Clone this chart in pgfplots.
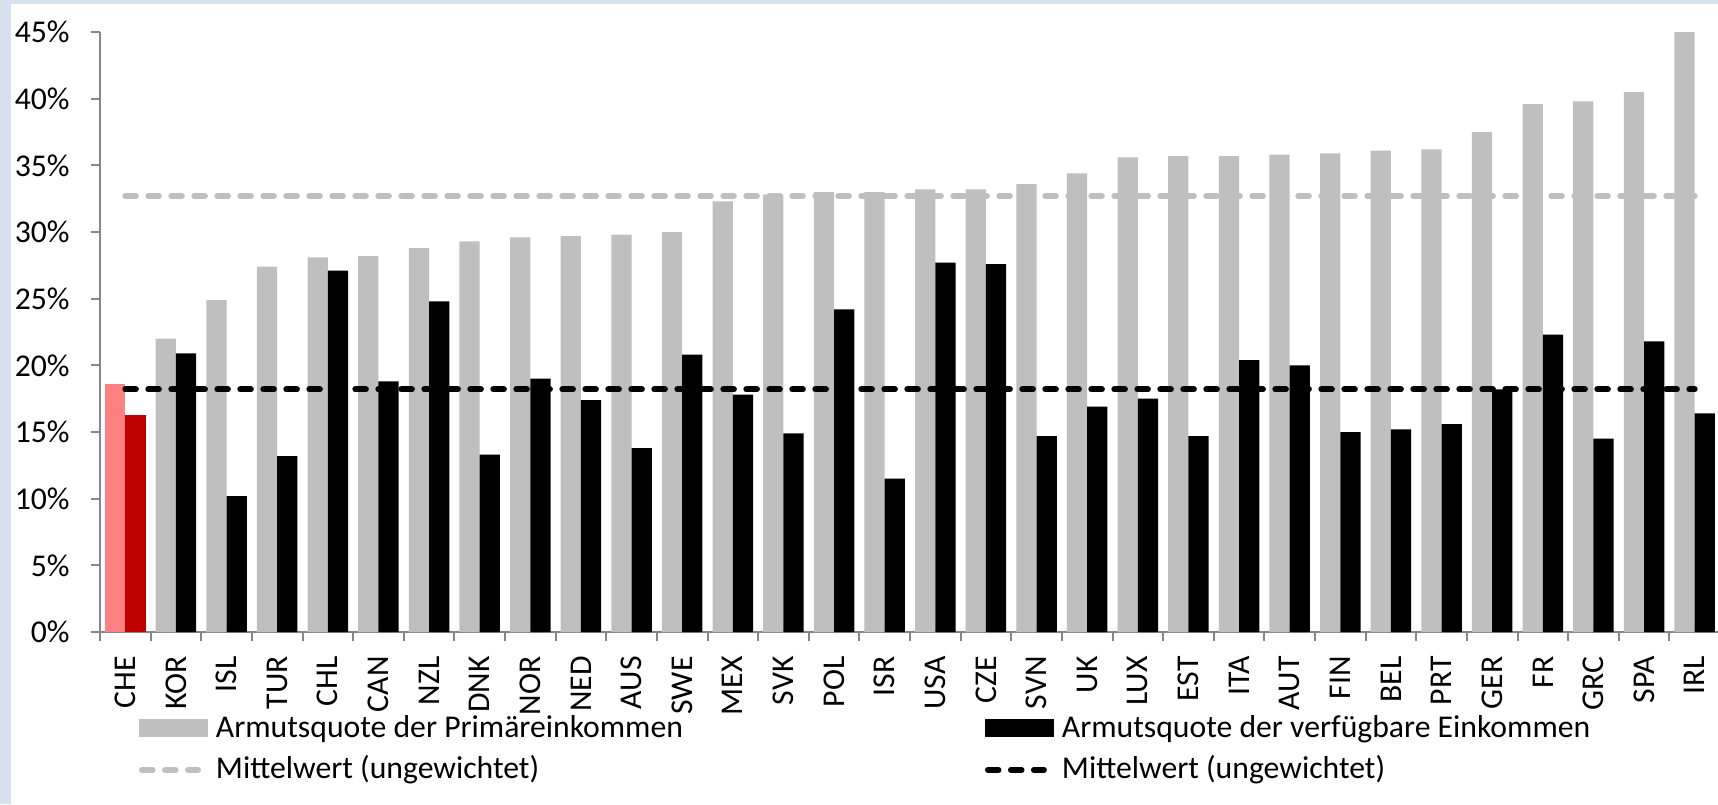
\documentclass[border=0pt]{standalone}
\usepackage{fontspec}
\setmainfont{Carlito}
\usepackage{pgfplots}
\usepackage{pgfplotstable}
\pgfplotsset{compat=1.18}

\definecolor{bgblue}{RGB}{213,226,237}
\definecolor{axisgray}{RGB}{134,134,134}
\definecolor{bargray}{RGB}{191,191,191}
\definecolor{chepink}{RGB}{255,128,128}
\definecolor{chered}{RGB}{192,0,0}

\tikzset{
  graymean/.style={bargray, line width=3pt, line cap=round, dash pattern=on 5.3pt off 6.2pt},
  blackmean/.style={black, line width=3pt, line cap=round, dash pattern=on 5.3pt off 6.2pt},
}

% x = Position, prim = Primaereinkommen, verf = verfuegbare Einkommen (in %)
\pgfplotstableread{
x  prim verf
1  22.0 20.9
2  24.9 10.2
3  27.4 13.2
4  28.1 27.1
5  28.2 18.8
6  28.8 24.8
7  29.3 13.3
8  29.6 19.0
9  29.7 17.4
10 29.8 13.8
11 30.0 20.8
12 32.3 17.8
13 32.8 14.9
14 33.0 24.2
15 33.0 11.5
16 33.2 27.7
17 33.2 27.6
18 33.6 14.7
19 34.4 16.9
20 35.6 17.5
21 35.7 14.7
22 35.7 20.4
23 35.8 20.0
24 35.9 15.0
25 36.1 15.2
26 36.2 15.6
27 37.5 18.2
28 39.6 22.3
29 39.8 14.5
30 40.5 21.8
31 45.0 16.4
}\data

\begin{document}
\begin{tikzpicture}[font=\fontsize{15.85}{19}\selectfont]
\fill[bgblue] (0,0) rectangle (859pt,402pt);
\fill[white] (5.5pt,0) rectangle (859pt,400pt);
\begin{axis}[
    at={(50pt,86pt)}, anchor=south west,
    scale only axis, width=810pt, height=300pt,
    xmin=-0.5, xmax=31.5, ymin=0, ymax=45,
    axis x line*=bottom, axis y line*=left,
    axis line style={draw=axisgray, line width=1pt, -},
    tick style={draw=axisgray, line width=1pt},
    tick align=outside, major tick length=4.5pt,
    ytick={0,5,...,45},
    yticklabel={\pgfmathprintnumber{\tick}\%},
    yticklabel style={anchor=east, inner sep=0pt},
    yticklabel shift=10.5pt,
    xtick={-0.5,0.5,...,31.5}, xticklabels={},
    extra x ticks={0,...,31},
    extra x tick labels={CHE,KOR,ISL,TUR,CHL,CAN,NZL,DNK,NOR,NED,AUS,SWE,MEX,SVK,POL,ISR,USA,CZE,SVN,UK,LUX,EST,ITA,AUT,FIN,BEL,PRT,GER,FR,GRC,SPA,IRL},
    extra x tick style={major tick length=0pt},
    xticklabel style={rotate=90, anchor=east, inner sep=0pt},
    xticklabel shift=12pt,
    /pgf/number format/assume math mode=true,
    legend columns=2,
    legend style={at={(axis description cs:0.02407,-0.1358)}, anchor=north west,
        draw=none, fill=none, inner sep=0pt, outer sep=0pt,
        row sep=4.75pt, column sep=4pt,
        cells={anchor=base west},
        nodes={inner sep=0pt, text height=12pt, text depth=4pt},
        /tikz/column 2/.style={column sep=151pt}},
]
% CHE hervorgehoben
\addplot[ybar, bar width=0.4, bar shift=-0.2, fill=chepink, draw=none, forget plot]
    coordinates {(0,18.6)};
\addplot[ybar, bar width=0.4, bar shift=0.2, fill=chered, draw=none, forget plot]
    coordinates {(0,16.3)};
% uebrige Laender
\addplot[ybar, bar width=0.4, bar shift=-0.2, fill=bargray, draw=none,
    legend image code/.code={\fill[bargray] (0pt,0pt) rectangle (34.5pt,9pt);}]
    table[x=x, y=prim] {\data};
\addlegendentry{Armutsquote der Primäreinkommen}
\addplot[ybar, bar width=0.4, bar shift=0.2, fill=black, draw=none,
    legend image code/.code={\fill[black] (0pt,0pt) rectangle (34.5pt,9pt);}]
    table[x=x, y=verf] {\data};
\addlegendentry{Armutsquote der verfügbare Einkommen}
% Mittelwerte
\addplot[graymean,
    legend image code/.code={\draw[graymean] (1.5pt,4.5pt) -- (29.5pt,4.5pt);}]
    coordinates {(0,32.7) (31,32.7)};
\addlegendentry{Mittelwert (ungewichtet)}
\addplot[blackmean,
    legend image code/.code={\draw[blackmean] (1.5pt,4.5pt) -- (29.5pt,4.5pt);}]
    coordinates {(0,18.2) (31,18.2)};
\addlegendentry{Mittelwert (ungewichtet)}
\end{axis}
\pgfresetboundingbox
\path[use as bounding box] (0,0) rectangle (859pt,402pt);
\end{tikzpicture}
\end{document}
